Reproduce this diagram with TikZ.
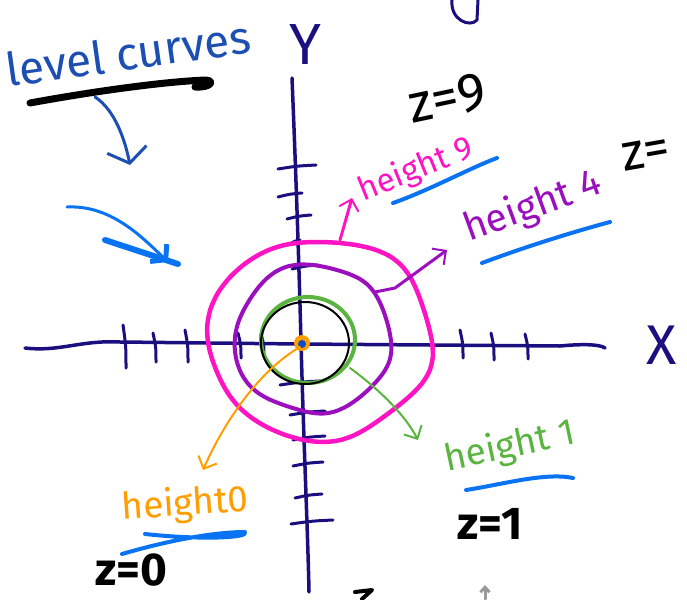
\documentclass[tikz,border=0pt]{standalone}
\usepackage{fontspec}
\setmainfont{Fira Sans}
\usetikzlibrary{arrows.meta}
\definecolor{skNavy}{HTML}{1B0F80}
\definecolor{skPink}{HTML}{FF14C4}
\definecolor{skPurple}{HTML}{9B0FBF}
\definecolor{skGreen}{HTML}{5BB440}
\definecolor{skOrange}{HTML}{FF9E00}
\definecolor{skBlue}{HTML}{0A73F2}
\definecolor{skTitle}{HTML}{1D4FB3}
\newcommand{\hand}[1]{\fontsize{#1}{#1}\selectfont}

\begin{document}
\begin{tikzpicture}[x=1pt,y=-1pt,line cap=round,line join=round,
  axis/.style={skNavy,line width=3.5pt},
  tick/.style={skNavy,line width=3pt},
  under/.style={skBlue,line width=4pt},
  barb/.style={-{Straight Barb[length=10pt,width=20pt,line width=2pt]}},
  label/.style={inner sep=0pt}]
\useasboundingbox (0,0) rectangle (687,599);
\draw[axis] (292,78) .. controls (297,200) and (300,300) .. (301,343) .. controls (304,450) and (308,540) .. (309,592);
\draw[axis] (25,348) .. controls (60,352) and (80,340) .. (120,342) -- (300,344) -- (560,346) .. controls (580,344) and (600,344) .. (605,348);
\foreach \y/\a/\b in {167/278/316,195/278/302,217/287/311,242/290/300,267/292/318,383/280/320,413/290/325,438/293/325,464/293/323,496/295/322,522/291/333}
  \draw[tick] (\a,\y+2) .. controls ({(\a+\b)/2},\y-1) .. (\b,\y-2);
\foreach \x/\a/\b in {125/325/368,155/333/362,187/330/362,240/333/358,263/334/356,462/330/358,493/333/360,527/334/359}
  \draw[tick] (\x-2,\a) .. controls (\x+1,{(\a+\b)/2}) .. (\x+1,\b);
\node[label,skNavy] (ylab) at (305,45) {\hand{58}Y};
\node[label,skNavy] (xlab) at (662,345) {\hand{56}X};
\draw[skNavy,line width=3pt] (452,0) .. controls (450,20) and (470,28) .. (477,20) -- (478,0);
\draw[skPink,line width=4.5pt] plot[smooth cycle,samples=40,domain=0:351] ({320+112*cos(\x)+3*sin(5*\x)},{339+100*sin(\x)+3*cos(4*\x)});
\draw[skPurple,line width=4pt] plot[smooth cycle,samples=40,domain=0:351] ({313+78*cos(\x)+2*sin(4*\x)},{339+74*sin(\x)+2*cos(5*\x)});
\draw[skGreen,line width=4pt] (308,340) ellipse [x radius=47,y radius=43];
\draw[black,line width=2pt] (305,343) ellipse [x radius=44,y radius=41];
\fill[skOrange] (302,343) circle (8);
\fill[skBlue!60!skNavy] (302,344) circle (4);
\coordinate (p9) at (340,240);
\coordinate (p4) at (375,292);
\coordinate (p1) at (350,368);
\coordinate (p0) at (300,347);
\node[label,skTitle,rotate=8] (title) at (128,53) {\hand{46}level curves};
\node[label,rotate=12] (z9) at (447,98) {\hand{54}z=9};
\node[label,skPink,rotate=22] (h9) at (416,170) {\hand{33}height 9};
\node[label,skPurple,rotate=20] (h4) at (533,207) {\hand{39}height 4};
\node[label,rotate=10,anchor=west] (z4) at (622,158) {\hand{52}z=};
\node[label,skGreen,rotate=12] (h1) at (510,447) {\hand{37}height 1};
\node[label] (z1) at (490,524) {\hand{46}\bfseries z=1};
\node[label,skOrange,rotate=4] (h0) at (185,505) {\hand{37}height0};
\node[label] (z0) at (131,570) {\hand{46}\bfseries z=0};
\draw[black,line width=7pt] (30,103) .. controls (90,92) and (160,82) .. (205,80) .. controls (215,80) and (212,88) .. (195,87);
\draw[under] (393,203) .. controls (430,190) and (470,168) .. (497,158);
\draw[under] (482,263) .. controls (530,245) and (580,230) .. (610,222);
\draw[under] (466,490) .. controls (500,485) and (545,472) .. (573,478);
\draw[under] (122,554) .. controls (170,540) and (215,532) .. (245,532) .. controls (250,538) and (200,540) .. (145,534);
\draw[skTitle,line width=3pt,-{Straight Barb[length=14pt,width=40pt,line width=3pt]}] (95,97) .. controls (115,110) and (125,140) .. (130,165);
\draw[skBlue,line width=3pt,-{Straight Barb[length=10pt,width=24pt,line width=5pt]}] (67,207) .. controls (110,205) and (140,235) .. (168,262);
\draw[skBlue,line width=6pt] (105,240) -- (178,264);
\draw[skPink,line width=3pt,barb] (p9) -- (352,198);
\draw[skPurple,line width=3pt,barb] (p4) -- (395,288) -- (447,250);
\draw[skGreen,line width=2pt,barb] (p1) .. controls (380,390) and (405,415) .. (418,440);
\draw[skOrange,line width=2pt,barb] (p0) .. controls (260,370) and (225,420) .. (203,470);
\draw[black,line width=4pt] (355,592) -- (372,590) -- (362,599);
\draw[gray!80,line width=3pt,-{Straight Barb[length=5pt,width=9pt]}] (485,599) -- (485,585);
\end{tikzpicture}
\end{document}
